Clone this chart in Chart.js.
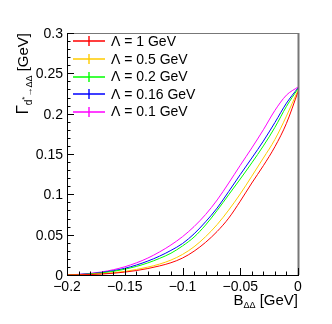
<!DOCTYPE html>
<html>
<head>
<meta charset="utf-8">
<script src="https://cdn.jsdelivr.net/npm/chart.js@4/dist/chart.umd.min.js"></script>
<style>
  html, body { margin: 0; padding: 0; background: #fff; }
  canvas { display: block; }
</style>
</head>
<body>
<canvas id="myChart" width="332" height="324"></canvas>
<script>
// B_DD values (GeV)
const bdd = [-0.20, -0.19, -0.18, -0.17, -0.16, -0.15, -0.14, -0.13, -0.12, -0.11, -0.10,
             -0.09, -0.08, -0.07, -0.06, -0.05, -0.04, -0.03, -0.02, -0.01, 0.0]

// width Gamma (GeV), one list per Lambda
const lam1   = [0, 0.0002, 0.0006, 0.0012, 0.0022, 0.0036, 0.0055, 0.008, 0.0112, 0.0152, 0.021,
                0.0295, 0.0405, 0.054, 0.0705, 0.0915, 0.114, 0.1355, 0.159, 0.188, 0.227]
const lam05  = [0, 0.0003, 0.0008, 0.0016, 0.0028, 0.0045, 0.0068, 0.0098, 0.0135, 0.0185, 0.0255,
                0.035, 0.0475, 0.0625, 0.0805, 0.1005, 0.1225, 0.145, 0.168, 0.197, 0.229]
const lam02  = [0, 0.0005, 0.0013, 0.0026, 0.0045, 0.0071, 0.0106, 0.015, 0.0205, 0.027, 0.036,
                0.047, 0.062, 0.080, 0.0995, 0.119, 0.139, 0.160, 0.183, 0.209, 0.231]
const lam016 = [0, 0.0006, 0.0016, 0.0031, 0.0053, 0.0083, 0.0123, 0.0173, 0.0233, 0.0305, 0.039,
                0.051, 0.066, 0.083, 0.1035, 0.1245, 0.145, 0.166, 0.189, 0.213, 0.232]
const lam01  = [0, 0.0008, 0.002, 0.0038, 0.0065, 0.0102, 0.015, 0.021, 0.0285, 0.0372, 0.0475,
                0.060, 0.075, 0.093, 0.114, 0.136, 0.1575, 0.180, 0.204, 0.223, 0.233]

const labels = ['Λ = 1 GeV', 'Λ = 0.5 GeV', 'Λ = 0.2 GeV', 'Λ = 0.16 GeV', 'Λ = 0.1 GeV']
const colors = ['#ff0000', '#ffcc00', '#00ff00', '#0000ff', '#ff00ff']
const series = [lam1, lam05, lam02, lam016, lam01]

const xTicks = [-0.2, -0.15, -0.1, -0.05, 0]
const xTickLabels = ['\u22120.2', '\u22120.15', '\u22120.1', '\u22120.05', '0']
const yTicks = [0, 0.05, 0.1, 0.15, 0.2, 0.25, 0.3]
const yTickLabels = ['0', '0.05', '0.1', '0.15', '0.2', '0.25', '0.3']

const FONT = '"Liberation Sans", Arial, sans-serif'

// ROOT-like frame, inward ticks, labels, titles and legend
const rootStyle = {
    id: 'rootStyle',
    afterDraw(chart) {
        const ctx = chart.ctx
        const a = chart.chartArea
        const xs = chart.scales.x
        const ys = chart.scales.y
        ctx.save()

        // top + right frame (grey)
        ctx.strokeStyle = '#777'
        ctx.lineWidth = 1
        ctx.beginPath()
        ctx.moveTo(a.left, a.top + 0.5)
        ctx.lineTo(a.right + 0.5, a.top + 0.5)
        ctx.stroke()
        ctx.lineWidth = 2
        ctx.beginPath()
        ctx.moveTo(a.right + 0.5, a.top)
        ctx.lineTo(a.right + 0.5, a.bottom)
        ctx.stroke()

        // axes
        ctx.strokeStyle = '#000'
        ctx.lineWidth = 1
        ctx.beginPath()
        ctx.moveTo(a.left + 0.5, a.top)
        ctx.lineTo(a.left + 0.5, a.bottom + 0.5)
        ctx.lineTo(a.right + 1, a.bottom + 0.5)
        ctx.stroke()

        // y ticks
        ctx.beginPath()
        for (let i = 0; i <= 30; i++) {
            const y = Math.round(ys.getPixelForValue(i * 0.01)) + 0.5
            const len = (i % 5 == 0) ? 7 : 3.5
            ctx.moveTo(a.left, y)
            ctx.lineTo(a.left + len, y)
        }
        // x ticks
        for (let i = 0; i <= 20; i++) {
            const x = Math.round(xs.getPixelForValue(-0.2 + i * 0.01)) + 0.5
            const len = (i % 5 == 0) ? 7 : 3.5
            ctx.moveTo(x, a.bottom)
            ctx.lineTo(x, a.bottom - len)
        }
        ctx.stroke()

        // tick labels
        ctx.fillStyle = '#000'
        ctx.font = '14px ' + FONT
        ctx.textAlign = 'right'
        ctx.textBaseline = 'middle'
        yTicks.forEach((v, i) => {
            ctx.fillText(yTickLabels[i], a.left - 4, ys.getPixelForValue(v) + 1)
        })
        ctx.textAlign = 'center'
        ctx.textBaseline = 'alphabetic'
        xTicks.forEach((v, i) => {
            ctx.fillText(xTickLabels[i], xs.getPixelForValue(v), a.bottom + 16)
        })

        // x title: B_DD [GeV]
        ctx.textAlign = 'left'
        const t1 = 'B', t2 = 'ΔΔ', t3 = ' [GeV]'
        ctx.font = '15px ' + FONT
        const w1 = ctx.measureText(t1).width
        const w3 = ctx.measureText(t3).width
        ctx.font = '9px ' + FONT
        const w2 = ctx.measureText(t2).width
        let x0 = a.right - (w1 + w2 + w3)
        const by = 305
        ctx.font = '15px ' + FONT
        ctx.fillText(t1, x0, by)
        ctx.font = '9px ' + FONT
        ctx.fillText(t2, x0 + w1, by + 3)
        ctx.font = '15px ' + FONT
        ctx.fillText(t3, x0 + w1 + w2, by)

        // y title: Gamma_{d*->DD} [GeV], rotated, ending at top of frame
        ctx.save()
        ctx.translate(28, a.top)
        ctx.rotate(-Math.PI / 2)
        const parts = [
            { t: 'Γ', f: 17, dy: 0 },
            { t: 'd', f: 10, dy: 4 },
            { t: '*', f: 8, dy: -1 },
            { t: '→ΔΔ', f: 9, dy: 4 },
            { t: ' [GeV]', f: 15, dy: 0 }
        ]
        let total = 0
        parts.forEach(p => { ctx.font = p.f + 'px ' + FONT; p.w = ctx.measureText(p.t).width; total += p.w })
        let px = -total
        parts.forEach(p => {
            ctx.font = p.f + 'px ' + FONT
            ctx.fillText(p.t, px, p.dy)
            px += p.w
        })
        ctx.restore()

        // legend (cross markers like ROOT "lep" entries)
        ctx.font = '14px ' + FONT
        ctx.textAlign = 'left'
        ctx.textBaseline = 'middle'
        const rows = [41, 59, 76.5, 94, 111.5]
        labels.forEach((lab, i) => {
            const y = Math.round(rows[i])
            ctx.strokeStyle = colors[i]
            ctx.lineWidth = 1.4
            ctx.beginPath()
            ctx.moveTo(73, y)
            ctx.lineTo(105, y)
            ctx.moveTo(89, y - 5)
            ctx.lineTo(89, y + 5)
            ctx.stroke()
            ctx.fillStyle = '#000'
            ctx.fillText(lab, 111, rows[i] + 1)
        })
        ctx.restore()
    }
}

const datasets = series.map((s, i) => ({
    label: labels[i],
    data: s.map((v, j) => ({ x: bdd[j], y: v })),
    borderColor: colors[i],
    backgroundColor: colors[i],
    borderWidth: 1,
    pointRadius: 0,
    cubicInterpolationMode: 'monotone',
    fill: false
}))

const ctx = document.getElementById('myChart')
const myChart = new Chart(ctx, {
    type: 'line',
    data: { datasets: datasets },
    options: {
        responsive: false,
        animation: false,
        layout: { padding: { left: 67, right: 34, top: 33, bottom: 49 } },
        plugins: { legend: { display: false }, tooltip: { enabled: false } },
        scales: {
            x: { type: 'linear', min: -0.2, max: 0, display: false },
            y: { type: 'linear', min: 0, max: 0.3, display: false }
        }
    },
    plugins: [rootStyle]
})
</script>
</body>
</html>
